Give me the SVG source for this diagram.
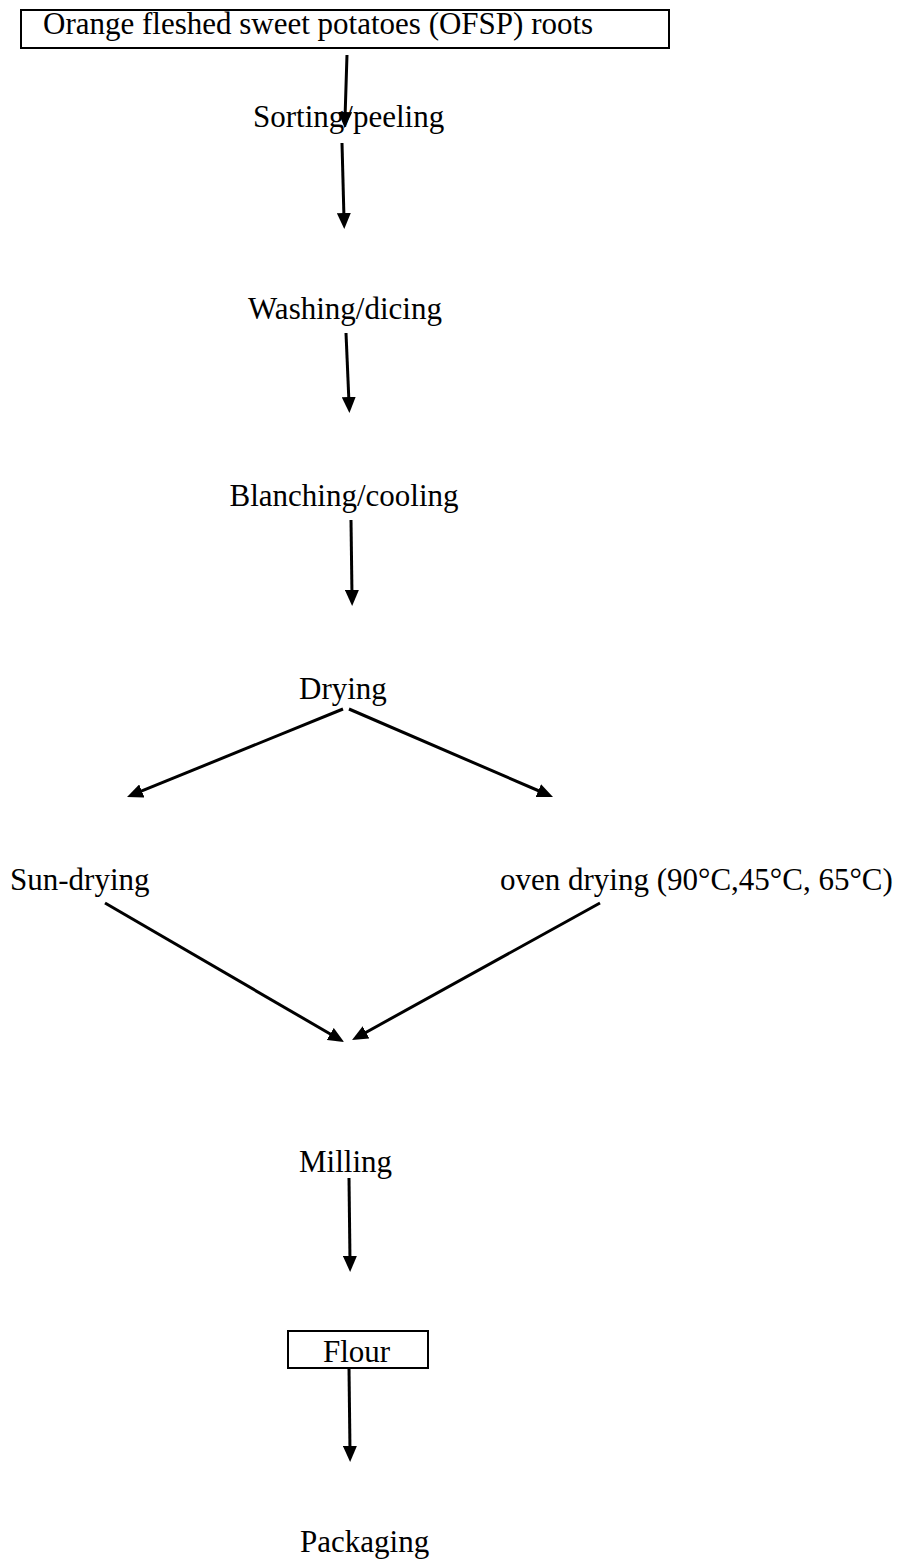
<svg xmlns="http://www.w3.org/2000/svg" width="913" height="1561" viewBox="0 0 913 1561">
<style>
.t{font-family:"Liberation Serif","Times New Roman",serif;font-size:31px;fill:#000}
.box{fill:#fff;stroke:#000;stroke-width:2}
.c{stroke:#000;stroke-width:3;fill:none;marker-end:url(#ah)}
</style>
<defs>
<marker id="ah" markerUnits="userSpaceOnUse" markerWidth="16" markerHeight="14" refX="6" refY="7" orient="auto">
<path d="M0,0 L16,7 L0,14 z" fill="#000"/>
</marker>
</defs>
<rect width="913" height="1561" fill="#fff"/>
<g id="connectors">
<line class="c" x1="347" y1="55" x2="345" y2="118"/>
<line class="c" x1="342" y1="143" x2="344" y2="219"/>
<line class="c" x1="346" y1="333" x2="349" y2="403"/>
<line class="c" x1="351" y1="520" x2="352" y2="596"/>
<line class="c" x1="343" y1="709" x2="136.3" y2="793.2"/>
<line class="c" x1="349" y1="709" x2="543.8" y2="793"/>
<line class="c" x1="105" y1="903" x2="335.4" y2="1037"/>
<line class="c" x1="600" y1="903" x2="360.8" y2="1035.2"/>
<line class="c" x1="349" y1="1178" x2="350" y2="1262"/>
<line class="c" x1="349" y1="1368" x2="350" y2="1452"/>
</g>
<g id="n-roots"><rect class="box" x="21" y="10" width="648" height="38"/><text class="t" x="43" y="34">Orange fleshed sweet potatoes (OFSP) roots</text></g>
<g id="n-sorting"><text class="t" x="253" y="127">Sorting/peeling</text></g>
<g id="n-washing"><text class="t" x="345" y="319" text-anchor="middle">Washing/dicing</text></g>
<g id="n-blanching"><text class="t" x="344" y="506" text-anchor="middle">Blanching/cooling</text></g>
<g id="n-drying"><text class="t" x="299" y="699">Drying</text></g>
<g id="n-sun"><text class="t" x="10" y="890">Sun-drying</text></g>
<g id="n-oven"><text class="t" x="500" y="890">oven drying (90°C,45°C, 65°C)</text></g>
<g id="n-milling"><text class="t" x="299" y="1172">Milling</text></g>
<g id="n-flour"><rect class="box" x="288" y="1331" width="140" height="37"/><text class="t" x="323" y="1362">Flour</text></g>
<g id="n-packaging"><text class="t" x="300" y="1552">Packaging</text></g>
</svg>
